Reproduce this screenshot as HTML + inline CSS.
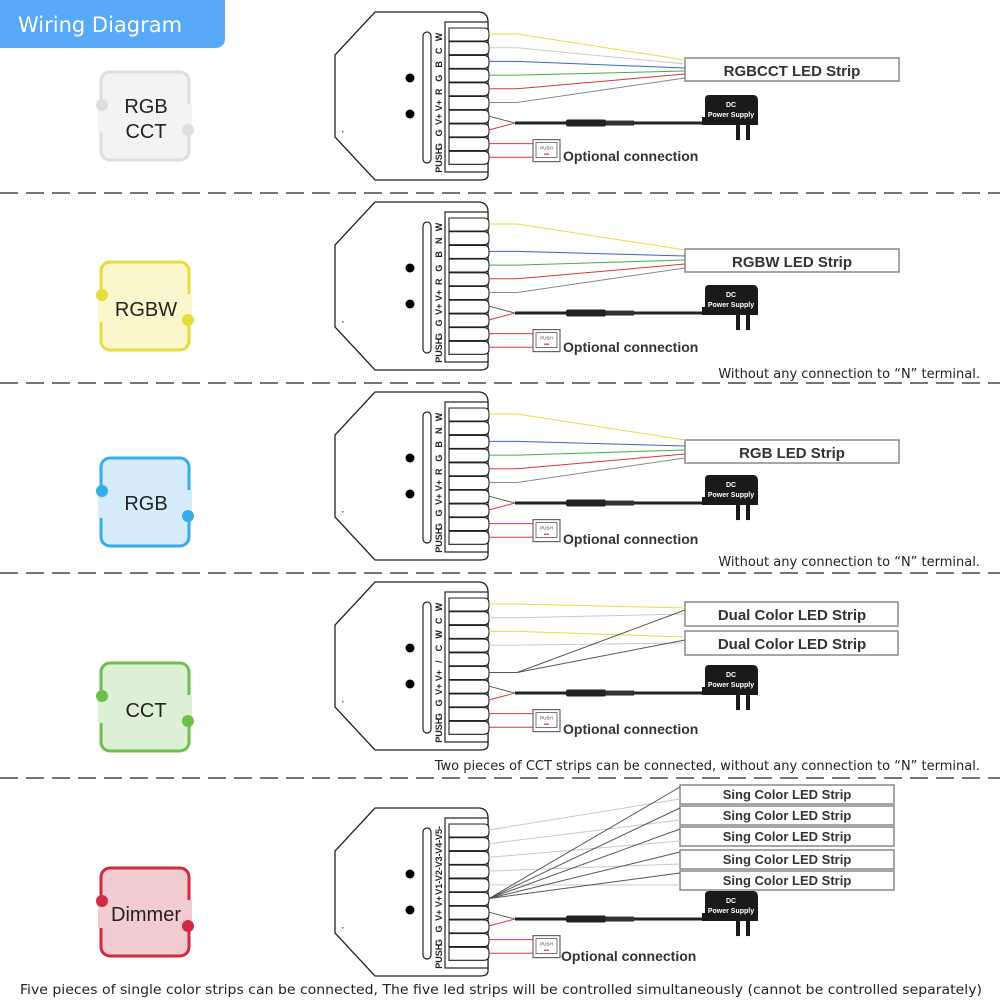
<!DOCTYPE html>
<html><head><meta charset="utf-8"><style>
html,body{margin:0;padding:0;background:#fff;}
svg{display:block;}
.t{font-family:"Liberation Sans",Arial,sans-serif;}
.d{font-family:"DejaVu Sans",Verdana,sans-serif;}
</style></head><body>
<svg id="s" width="1000" height="1000" viewBox="0 0 1000 1000" xmlns="http://www.w3.org/2000/svg">
<path d="M0 0H225V38Q225 48 215 48H0Z" fill="#5aa8f8"/>
<text x="18" y="32" class="d" font-size="21" fill="#fff">Wiring Diagram</text>
<g stroke="#222" stroke-width="1.2" stroke-dasharray="18,8">
<line x1="0" y1="193" x2="1000" y2="193"/><line x1="0" y1="383" x2="1000" y2="383"/>
<line x1="0" y1="573" x2="1000" y2="573"/><line x1="0" y1="778" x2="1000" y2="778"/>
</g>
<g id="cards"></g>
<g id="ctrl"></g>
<g class="t" font-weight="bold" fill="#333">
<text x="792" y="76" font-size="15" text-anchor="middle">RGBCCT LED Strip</text>
<text x="792" y="267" font-size="15" text-anchor="middle">RGBW LED Strip</text>
<text x="792" y="458" font-size="15" text-anchor="middle">RGB LED Strip</text>
<text x="792" y="620" font-size="15" text-anchor="middle">Dual Color LED Strip</text>
<text x="792" y="649" font-size="15" text-anchor="middle">Dual Color LED Strip</text>
<text x="787" y="799" font-size="13" text-anchor="middle">Sing Color LED Strip</text>
<text x="787" y="820" font-size="13" text-anchor="middle">Sing Color LED Strip</text>
<text x="787" y="841" font-size="13" text-anchor="middle">Sing Color LED Strip</text>
<text x="787" y="864" font-size="13" text-anchor="middle">Sing Color LED Strip</text>
<text x="787" y="885" font-size="13" text-anchor="middle">Sing Color LED Strip</text>
<text x="563" y="161" font-size="14">Optional connection</text>
<text x="563" y="352" font-size="14">Optional connection</text>
<text x="563" y="544" font-size="14">Optional connection</text>
<text x="563" y="734" font-size="14">Optional connection</text>
<text x="561" y="961" font-size="14">Optional connection</text>
</g>
<g class="d" font-size="13" fill="#222">
<text x="980" y="378" text-anchor="end">Without any connection to “N” terminal.</text>
<text x="980" y="566" text-anchor="end">Without any connection to “N” terminal.</text>
<text x="980" y="770" text-anchor="end">Two pieces of CCT strips can be connected, without any connection to “N” terminal.</text>
<text x="20" y="994" textLength="962" lengthAdjust="spacingAndGlyphs">Five pieces of single color strips can be connected, The five led strips will be controlled simultaneously (cannot be controlled separately)</text>
</g>
<g class="t" font-size="20" fill="#222" text-anchor="middle">
<text x="146" y="113">RGB</text><text x="146" y="138">CCT</text>
<text x="146" y="316">RGBW</text>
<text x="146" y="510">RGB</text>
<text x="146" y="717">CCT</text>
<text x="146" y="921">Dimmer</text>
</g>
</svg>
<script>
var NS="http://www.w3.org/2000/svg";
function el(p,tag,a,txt){var e=document.createElementNS(NS,tag);for(var k in a)e.setAttribute(k,a[k]);if(txt)e.textContent=txt;p.appendChild(e);return e;}
var cards=document.getElementById('cards');
[[72,'#f3f3f3','#dedede'],[262,'#fbf7cc','#e6dc3a'],[458,'#d6ecfb','#36ace8'],[663,'#ddf0d5','#6cbf4c'],[868,'#f2ccd0','#d02a40']].forEach(function(c){
 var y=c[0];el(cards,'rect',{x:101,y:y,width:88,height:88,rx:9,fill:c[1],stroke:c[2],'stroke-width':3});
 el(cards,'rect',{x:98,y:y+34,width:6,height:26,fill:c[1]});
 el(cards,'rect',{x:186,y:y+32,width:6,height:26,fill:c[1]});
 el(cards,'circle',{cx:102,cy:y+33,r:6,fill:c[2]});
 el(cards,'circle',{cx:188,cy:y+58,r:6,fill:c[2]});
});
var g=document.getElementById('ctrl');
var Y='#e6dc3a',L='#c8c8c8',B='#3a64c0',G='#44b044',R='#e03040',M='#888',D='#555';
function ctrl(oy,labels,wires,direct){
 var P=13.7;function ry(i){return oy+34+P*i;}
 el(g,'path',{d:'M375 '+(oy+12)+'H478Q488 '+(oy+12)+' 488 '+(oy+22)+'V'+(oy+175)+'Q488 '+(oy+180)+' 480 '+(oy+180)+'H375L335 '+(oy+137)+'V'+(oy+55)+'Z',fill:'#fff',stroke:'#222','stroke-width':1.3});
 el(g,'rect',{x:445,y:oy+22,width:43,height:150,fill:'#fff',stroke:'#222','stroke-width':1.2});
 el(g,'rect',{x:423,y:oy+32,width:8,height:131,rx:4,fill:'#fff',stroke:'#222','stroke-width':1.2});
 el(g,'circle',{cx:410,cy:oy+78,r:4.5,fill:'#000'});el(g,'circle',{cx:410,cy:oy+114,r:4.5,fill:'#000'});
 el(g,'rect',{x:342,y:oy+131,width:1.5,height:1.5,fill:'#e03040'});
 for(var i=0;i<10;i++){var y=ry(i);
  el(g,'path',{d:'M449 '+(y-6)+'H484Q489 '+(y-6)+' 489 '+(y-1)+'V'+(y+2)+'Q489 '+(y+7)+' 484 '+(y+7)+'H449Z',fill:'#fff',stroke:'#222','stroke-width':1.1});
  el(g,'text',{x:0,y:0,transform:'translate(442,'+(y+3)+') rotate(-90)','font-family':'Liberation Sans,Arial,sans-serif','font-size':'9','font-weight':'bold','text-anchor':'middle',fill:'#222'},labels[i]);}
 wires.forEach(function(w){
  var pts=direct?('489,'+ry(w[0])+' '+w[1]+','+(oy+w[2])):('489,'+ry(w[0])+' 517,'+ry(w[0])+' '+w[1]+','+(oy+w[2]));
  el(g,'polyline',{points:pts,fill:'none',stroke:w[3],'stroke-width':1});});
 var cy=ry(6.5);
 el(g,'line',{x1:489,y1:ry(6),x2:515,y2:cy,stroke:D,'stroke-width':1});
 el(g,'line',{x1:489,y1:ry(7),x2:515,y2:cy,stroke:R,'stroke-width':1});
 el(g,'line',{x1:515,y1:cy,x2:705,y2:cy,stroke:'#222','stroke-width':3});
 el(g,'rect',{x:566,y:cy-3.5,width:40,height:7,rx:2,fill:'#222'});
 el(g,'rect',{x:606,y:cy-2.5,width:28,height:5,fill:'#333'});
 var py=cy-28;
 el(g,'path',{d:'M709 '+py+'H753Q758 '+py+' 758 '+(py+6)+'V'+(py+30)+'H702V'+(py+22)+'H705V'+(py+4)+'Q705 '+py+' 709 '+py+'Z',fill:'#1a1a1a'});
 el(g,'rect',{x:736,y:py+30,width:4,height:15,fill:'#1a1a1a'});el(g,'rect',{x:746,y:py+30,width:4,height:15,fill:'#1a1a1a'});
 el(g,'text',{x:731,y:py+12,'font-family':'Liberation Sans,Arial,sans-serif','font-size':'7','font-weight':'bold','text-anchor':'middle',fill:'#fff'},'DC');
 el(g,'text',{x:731,y:py+22,'font-family':'Liberation Sans,Arial,sans-serif','font-size':'7','font-weight':'bold','text-anchor':'middle',fill:'#fff'},'Power Supply');
 el(g,'line',{x1:489,y1:ry(8),x2:533,y2:ry(8),stroke:R,'stroke-width':1});
 el(g,'line',{x1:489,y1:ry(9),x2:533,y2:ry(9),stroke:R,'stroke-width':1});
 var bx=533,by=ry(8)-4;
 el(g,'rect',{x:bx,y:by,width:27,height:22,fill:'#fff',stroke:'#666','stroke-width':1.2});
 el(g,'rect',{x:bx+3,y:by+3,width:21,height:15,fill:'#fff',stroke:'#555','stroke-width':0.8});
 el(g,'text',{x:bx+13.5,y:by+10,'font-family':'Liberation Sans,Arial,sans-serif','font-size':'4.5','text-anchor':'middle',fill:'#333'},'PUSH');
 el(g,'rect',{x:bx+11,y:by+14,width:5,height:1.2,fill:R});
}
function strip(x,y,w,h){el(g,'rect',{x:x,y:y,width:w,height:h,fill:'#fff',stroke:'#888','stroke-width':1.5});}
var st=['W','C','B','G','R','V+','V+','G','G','PUSH'];
strip(685,58,214,23);
ctrl(0,st,[[0,685,60,Y],[1,685,64,L],[2,685,68,B],[3,685,71,G],[4,685,74,R],[5,685,78,M]]);
var s2=['W','N','B','G','R','V+','V+','G','G','PUSH'];
strip(685,249,214,23);
ctrl(190,s2,[[0,685,60,Y],[2,685,66,B],[3,685,70,G],[4,685,74,R],[5,685,78,M]]);
strip(685,440,214,23);
ctrl(380,s2,[[0,685,60,Y],[2,685,66,B],[3,685,70,G],[4,685,74,R],[5,685,78,M]]);
strip(685,602,213,24);strip(685,631,213,24);
ctrl(570,['W','C','W','C','/','V+','V+','G','G','PUSH'],[[0,685,38,Y],[1,685,44,L],[2,685,67,Y],[3,685,73,L],[5,685,40,D],[5,685,70,D]]);
var sy=[785,806,827,850,871];
sy.forEach(function(y){strip(680,y,214,19);});
var w5=[];
for(var i=0;i<5;i++){w5.push([i,680,sy[i]+14-796,L]);}
for(var i=0;i<5;i++){w5.push([5,680,sy[i]+2-796,D]);}
ctrl(796,['V5-','V4-','V3-','V2-','V1-','V+','V+','G','G','PUSH'],w5,true);
</script>
</body></html>
